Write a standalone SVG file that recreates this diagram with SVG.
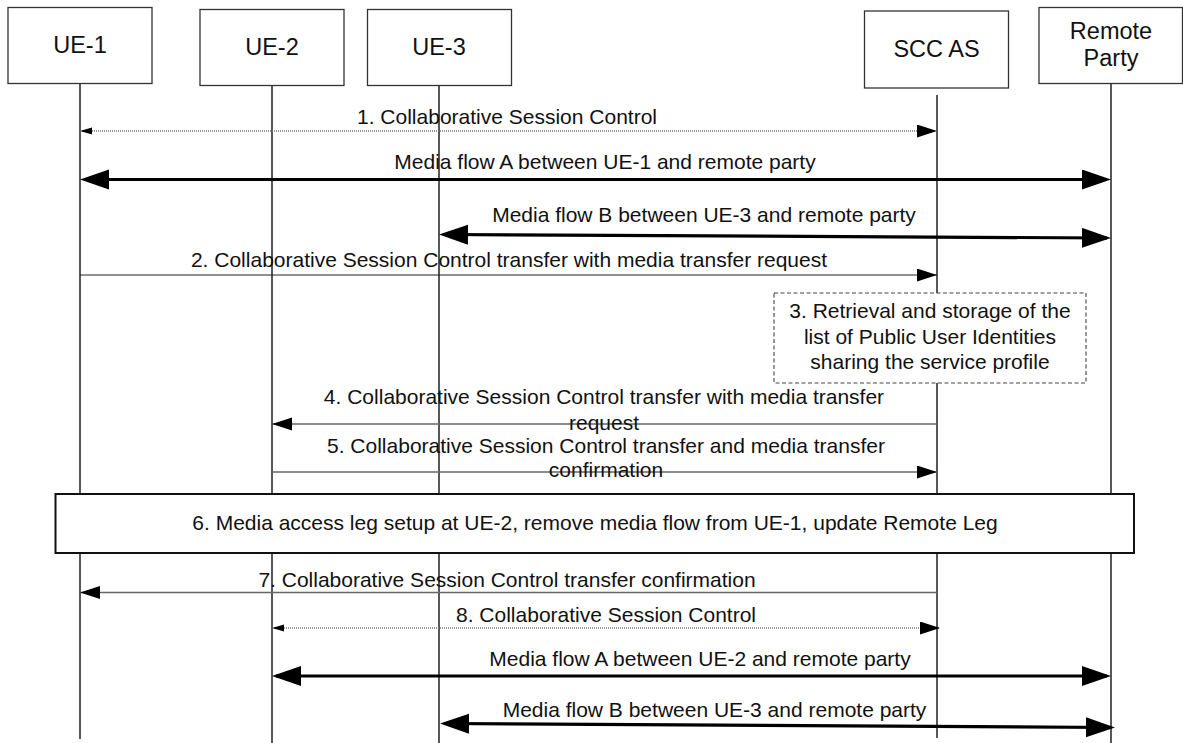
<svg xmlns="http://www.w3.org/2000/svg" width="1183" height="743" viewBox="0 0 1183 743">
<style>
text{font-family:"Liberation Sans",Arial,sans-serif;fill:#111}
.hd{font-size:23.5px;text-anchor:middle}
.msg{font-size:21px;text-anchor:middle}
.box{fill:#fff;stroke:#333;stroke-width:1.3}
.life{stroke:#111;stroke-width:1.4;fill:none}
.note{fill:#fff;stroke:#444;stroke-width:1.1;stroke-dasharray:4,2.5}
.act{fill:#fff;stroke:#111;stroke-width:2}
.dot{stroke:#777;stroke-width:1.4;stroke-dasharray:1,1;fill:none}
.thin{stroke:#222;stroke-width:1.2;fill:none}
.thing{stroke:#666;stroke-width:1.4;fill:none}
.thick{stroke:#000;stroke-width:3.2;fill:none}
</style>
<defs>
<marker id="sm" markerUnits="userSpaceOnUse" markerWidth="13" markerHeight="8" refX="12" refY="3.5" orient="auto-start-reverse"><path d="M0,0 L12,3.5 L0,7 z" fill="#000"/></marker>
<marker id="md" markerUnits="userSpaceOnUse" markerWidth="22" markerHeight="15" refX="20" refY="6.5" orient="auto-start-reverse"><path d="M0,0 L20,6.5 L0,13 z" fill="#000"/></marker>
<marker id="lg" markerUnits="userSpaceOnUse" markerWidth="30" markerHeight="21" refX="25" refY="10" orient="auto-start-reverse"><path d="M0,0 L29,10 L0,20 z" fill="#000"/></marker>
</defs>

<g id="ue1">
<line class="life" x1="80" y1="84" x2="80" y2="739"/>
<rect class="box" x="8" y="7.5" width="144" height="76"/>
<text class="hd" x="80" y="53">UE-1</text>
</g>
<g id="ue2">
<line class="life" x1="272" y1="86" x2="272" y2="743"/>
<rect class="box" x="200" y="9.5" width="144" height="76"/>
<text class="hd" x="272" y="54.5">UE-2</text>
</g>
<g id="ue3">
<line class="life" x1="439" y1="82" x2="439" y2="743"/>
<rect class="box" x="367.5" y="9.5" width="144" height="76"/>
<text class="hd" x="439" y="54.5">UE-3</text>
</g>
<g id="sccas">
<line class="life" x1="937" y1="95" x2="937" y2="738"/>
<rect class="box" x="864.5" y="11" width="144" height="77"/>
<text class="hd" x="936.5" y="57">SCC AS</text>
</g>
<g id="remote">
<line class="life" x1="1111" y1="84" x2="1111" y2="743"/>
<rect class="box" x="1039" y="7.5" width="143.5" height="76"/>
<text class="hd" x="1111" y="38.5">Remote</text>
<text class="hd" x="1111" y="65.5">Party</text>
</g>

<g id="step3">
<rect class="note" x="774" y="293" width="312" height="90"/>
<text class="msg" x="930" y="318">3. Retrieval and storage of the</text>
<text class="msg" x="930" y="344">list of Public User Identities</text>
<text class="msg" x="930" y="369">sharing the service profile</text>
</g>
<g id="step6">
<rect class="act" x="55.5" y="494" width="1078.5" height="59"/>
<text class="msg" x="595" y="530">6. Media access leg setup at UE-2, remove media flow from UE-1, update Remote Leg</text>
</g>

<g id="connectors">
<line class="dot" x1="80" y1="131" x2="937" y2="131" marker-start="url(#sm)" marker-end="url(#md)"/>
<line class="thick" x1="84" y1="179.5" x2="1107" y2="179.5" marker-start="url(#lg)" marker-end="url(#lg)"/>
<line class="thick" x1="443" y1="234.5" x2="1107" y2="238" marker-start="url(#lg)" marker-end="url(#lg)"/>
<line class="thin" x1="80" y1="275" x2="937" y2="275" marker-end="url(#md)"/>
<line class="thing" x1="937" y1="424" x2="272" y2="424" marker-end="url(#md)"/>
<line class="thing" x1="272" y1="472" x2="937" y2="472" marker-end="url(#md)"/>
<line class="thing" x1="937" y1="592.5" x2="80" y2="592.5" marker-end="url(#md)"/>
<line class="dot" x1="272" y1="628" x2="940" y2="628" marker-start="url(#sm)" marker-end="url(#md)"/>
<line class="thick" x1="276" y1="676" x2="1107" y2="676" marker-start="url(#lg)" marker-end="url(#lg)"/>
<line class="thick" x1="444" y1="723.5" x2="1111" y2="727.5" marker-start="url(#lg)" marker-end="url(#lg)"/>
</g>

<g id="labels">
<text class="msg" x="507" y="124">1. Collaborative Session Control</text>
<text class="msg" x="605" y="168.5">Media flow A between UE-1 and remote party</text>
<text class="msg" x="704" y="222">Media flow B between UE-3 and remote party</text>
<text class="msg" x="509" y="267">2. Collaborative Session Control transfer with media transfer request</text>
<text class="msg" x="604" y="404">4. Collaborative Session Control transfer with media transfer</text>
<text class="msg" x="604" y="430">request</text>
<text class="msg" x="606" y="452.5">5. Collaborative Session Control transfer and media transfer</text>
<text class="msg" x="606" y="477">confirmation</text>
<text class="msg" x="507" y="587">7. Collaborative Session Control transfer confirmation</text>
<text class="msg" x="606" y="622">8. Collaborative Session Control</text>
<text class="msg" x="700" y="666">Media flow A between UE-2 and remote party</text>
<text class="msg" x="714.5" y="716.5">Media flow B between UE-3 and remote party</text>
</g>
</svg>
